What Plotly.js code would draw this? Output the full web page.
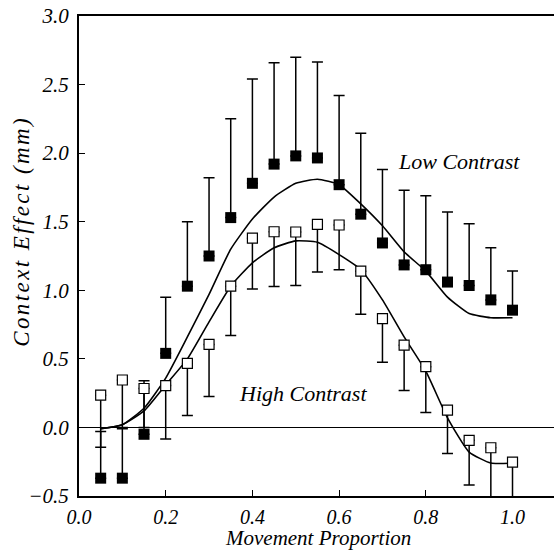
<!DOCTYPE html>
<html>
<head>
<meta charset="utf-8">
<script src="https://cdn.plot.ly/plotly-3.0.1.min.js"></script>
<style>
html,body{margin:0;padding:0;background:#fff;}
#chart{width:554px;height:552px;}
g.annotation[data-index="2"] text{letter-spacing:2.4px;}
</style>
</head>
<body>
<div id="chart"></div>
<script>
// Movement proportion (x positions of the data points)
var movement = [0.05,0.10,0.15,0.20,0.25,0.30,0.35,0.40,0.45,0.50,0.55,0.60,0.65,0.70,0.75,0.80,0.85,0.90,0.95,1.00];

// Low contrast (filled squares): mean and upward error
var lowMean  = [-0.37,-0.37,-0.05,0.54,1.03,1.25,1.53,1.78,1.92,1.98,1.965,1.77,1.555,1.345,1.185,1.15,1.06,1.035,0.93,0.855];
var lowErrUp = [0.34,0.37,0.39,0.41,0.47,0.57,0.72,0.76,0.74,0.72,0.70,0.65,0.59,0.535,0.545,0.54,0.51,0.45,0.38,0.285];

// High contrast (open squares): mean and downward error
var highMean    = [0.235,0.346,0.284,0.305,0.467,0.605,1.03,1.38,1.427,1.425,1.48,1.476,1.139,0.793,0.60,0.443,0.126,-0.094,-0.148,-0.253];
var highErrDown = [0.38,0.356,0.284,0.39,0.38,0.38,0.36,0.37,0.40,0.39,0.346,0.326,0.313,0.318,0.33,0.334,0.316,0.326,0.38,0.45];

// Fitted curves
var lowFit  = [-0.01,0.02,0.14,0.36,0.66,0.97,1.30,1.52,1.68,1.78,1.81,1.77,1.63,1.47,1.28,1.14,0.95,0.83,0.80,0.80];
var highFit = [-0.01,0.02,0.12,0.31,0.50,0.77,1.03,1.20,1.31,1.36,1.35,1.26,1.15,0.93,0.66,0.41,0.07,-0.18,-0.26,-0.26];

var xTicks = [0,0.2,0.4,0.6,0.8,1.0];
var xTickText = ['0.0','0.2','0.4','0.6','0.8','1.0'];

var xTitle = 'Movement Proportion';
var yTitle = 'Context Effect (mm)';
var lowLabel = 'Low Contrast';
var highLabel = 'High Contrast';

var zeros = movement.map(function(){return 0;});
var serif = '"Liberation Serif", "Times New Roman", Times, serif';

var traces = [
  {x: movement, y: lowFit, mode: 'lines', line: {color: '#000', width: 1.6, shape: 'spline', smoothing: 0.5}, hoverinfo: 'skip'},
  {x: movement, y: highFit, mode: 'lines', line: {color: '#000', width: 1.6, shape: 'spline', smoothing: 0.5}, hoverinfo: 'skip'},
  {x: movement, y: lowMean, mode: 'markers',
   marker: {symbol: 'square', size: 11, color: '#000'},
   error_y: {type: 'data', symmetric: false, array: lowErrUp, arrayminus: zeros, color: '#000', thickness: 1.5, width: 5.5}},
  {x: movement, y: highMean, mode: 'markers',
   marker: {symbol: 'square', size: 10, color: '#fff', line: {color: '#000', width: 1.2}},
   error_y: {type: 'data', symmetric: false, array: zeros, arrayminus: highErrDown, color: '#000', thickness: 1.5, width: 5.5}}
];

var layout = {
  width: 554, height: 552,
  margin: {l: 79, r: 0, t: 16, b: 56},
  paper_bgcolor: '#fff', plot_bgcolor: '#fff',
  showlegend: false,
  font: {family: serif, color: '#000', size: 21, style: 'italic'},
  xaxis: {
    range: [0, 1.0957], tickvals: xTicks, ticktext: xTickText,
    ticks: 'inside', ticklen: 6, tickwidth: 1, tickcolor: '#000',
    showline: true, linewidth: 2, linecolor: '#000', mirror: true,
    showgrid: false, zeroline: false,
    tickfont: {family: serif, size: 20, style: 'italic'},
    ticklabelstandoff: 2
  },
  yaxis: {
    range: [-0.5, 3.0], dtick: 0.5, tick0: 0, tickformat: '.1f',
    ticks: 'inside', ticklen: 6, tickwidth: 1, tickcolor: '#000',
    showline: true, linewidth: 2, linecolor: '#000',
    showgrid: false, zeroline: true, zerolinecolor: '#000', zerolinewidth: 1.5,
    tickfont: {family: serif, size: 21, style: 'italic'},
    ticklabelstandoff: 4
  },
  annotations: [
    {x: 0.877, y: 1.94, xref: 'x', yref: 'y', text: lowLabel, showarrow: false,
     font: {family: serif, size: 22, style: 'italic', color: '#000'}},
    {x: 0.517, y: 0.25, xref: 'x', yref: 'y', text: highLabel, showarrow: false,
     font: {family: serif, size: 22, style: 'italic', color: '#000'}},
    {x: -0.12, y: 0.55, xref: 'paper', yref: 'paper', text: yTitle, showarrow: false, textangle: -90,
     xanchor: 'center', yanchor: 'middle',
     font: {family: serif, size: 23, style: 'italic', color: '#000'}},
    {x: 0.503, y: -0.088, xref: 'paper', yref: 'paper', text: xTitle, showarrow: false,
     xanchor: 'center', yanchor: 'middle',
     font: {family: serif, size: 21, style: 'italic', color: '#000'}}
  ]
};

Plotly.newPlot('chart', traces, layout, {displayModeBar: false, staticPlot: true});
</script>
</body>
</html>
